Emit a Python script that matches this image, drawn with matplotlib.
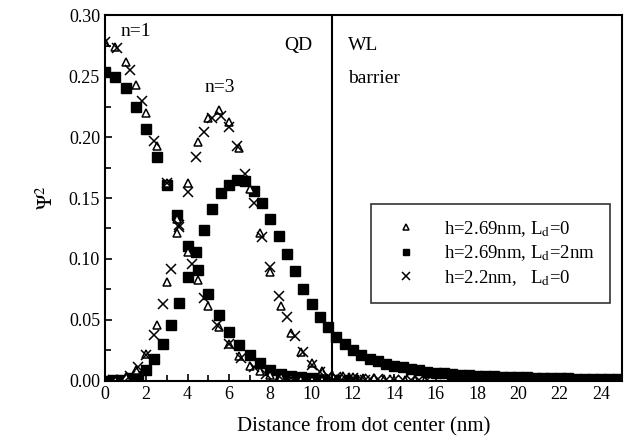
import matplotlib
matplotlib.use('Agg')
import matplotlib.pyplot as plt
from matplotlib.ticker import MultipleLocator

plt.rcParams['font.family'] = ['Liberation Serif', 'DejaVu Serif']
plt.rcParams['mathtext.fontset'] = 'stix'

# n=1 ground state, h=2.69nm, Ld=0 (open triangles)
x_tri_1 = [0.0, 0.5, 1.0, 1.5, 2.0, 2.5, 3.0, 3.5, 4.0, 4.5, 5.0, 5.5, 6.0, 6.5, 7.0, 7.5,
           8.0, 8.5, 9.0, 9.5, 10.0, 10.5, 11.0, 11.5, 12.0, 12.5, 13.0]
y_tri_1 = [0.278, 0.274, 0.262, 0.243, 0.220, 0.193, 0.162, 0.133, 0.106, 0.083, 0.061, 0.044,
           0.030, 0.020, 0.012, 0.008, 0.005, 0.003, 0.002, 0.0015, 0.001, 0.001, 0.0008,
           0.0006, 0.0005, 0.0004, 0.0003]
# n=3, h=2.69nm, Ld=0
x_tri_3 = [0.0, 0.5, 1.0, 1.5, 2.0, 2.5, 3.0, 3.5, 4.0, 4.5, 5.0, 5.5, 6.0, 6.5, 7.0, 7.5,
           8.0, 8.5, 9.0, 9.5, 10.0, 10.5, 11.0, 11.5, 12.0, 12.5, 13.0, 13.5, 14.0, 14.5,
           15.0, 15.5]
y_tri_3 = [0.0, 0.001, 0.003, 0.009, 0.022, 0.046, 0.081, 0.121, 0.162, 0.196, 0.216, 0.222,
           0.212, 0.191, 0.157, 0.121, 0.089, 0.061, 0.039, 0.024, 0.015, 0.008, 0.005, 0.004,
           0.003, 0.0025, 0.002, 0.0015, 0.001, 0.001, 0.0008, 0.0006]

# n=1, h=2.69nm, Ld=2nm (filled squares)
x_sq_1 = [0.0, 0.5, 1.0, 1.5, 2.0, 2.5, 3.0, 3.5, 4.0, 4.5, 5.0, 5.5, 6.0, 6.5, 7.0, 7.5,
          8.0, 8.5, 9.0, 9.5, 10.0, 10.5, 11.0, 11.5, 12.0]
y_sq_1 = [0.253, 0.249, 0.240, 0.225, 0.207, 0.184, 0.161, 0.136, 0.111, 0.091, 0.071, 0.054,
          0.040, 0.029, 0.021, 0.015, 0.009, 0.006, 0.004, 0.003, 0.002, 0.0015, 0.001,
          0.001, 0.0008]
# n=3, h=2.69nm, Ld=2nm
x_sq_3 = [0.0, 0.4, 0.8, 1.2, 1.6, 2.0, 2.4, 2.8, 3.2, 3.6, 4.0, 4.4, 4.8, 5.2, 5.6, 6.0,
          6.4, 6.8, 7.2, 7.6, 8.0, 8.4, 8.8, 9.2, 9.6, 10.0, 10.4, 10.8, 11.2, 11.6, 12.0,
          12.4, 12.8, 13.2, 13.6, 14.0, 14.4, 14.8, 15.2, 15.6, 16.0, 16.4, 16.8, 17.2, 17.6,
          18.0, 18.4, 18.8, 19.2, 19.6, 20.0, 20.4, 20.8, 21.2, 21.6, 22.0, 22.4, 22.8, 23.2,
          23.6, 24.0, 24.4, 24.8]
y_sq_3 = [0.0, 0.0005, 0.001, 0.002, 0.004, 0.009, 0.018, 0.030, 0.046, 0.064, 0.085, 0.106,
          0.124, 0.141, 0.154, 0.161, 0.165, 0.164, 0.156, 0.146, 0.133, 0.119, 0.104, 0.090,
          0.075, 0.063, 0.052, 0.044, 0.036, 0.030, 0.025, 0.021, 0.018, 0.016, 0.014, 0.012,
          0.011, 0.0095, 0.0085, 0.0075, 0.0068, 0.0062, 0.0056, 0.0051, 0.0047, 0.0043,
          0.0040, 0.0037, 0.0034, 0.0032, 0.0030, 0.0028, 0.0026, 0.0024, 0.0022, 0.0021,
          0.0020, 0.0019, 0.0018, 0.0017, 0.0016, 0.0015, 0.0014]

# n=1, h=2.2nm, Ld=0 (crosses)
x_x_1 = [0.0, 0.6, 1.2, 1.8, 2.4, 3.0, 3.6, 4.2, 4.8, 5.4, 6.0, 6.6, 7.2, 7.8, 8.4, 9.0,
         9.6, 10.2, 10.8, 11.4, 12.0, 12.6]
y_x_1 = [0.278, 0.273, 0.255, 0.230, 0.197, 0.162, 0.126, 0.096, 0.068, 0.046, 0.030, 0.019,
         0.011, 0.006, 0.004, 0.002, 0.0015, 0.001, 0.0008, 0.0006, 0.0005, 0.0004]
# n=3, h=2.2nm, Ld=0
x_x_3 = [0.0, 0.4, 0.8, 1.2, 1.6, 2.0, 2.4, 2.8, 3.2, 3.6, 4.0, 4.4, 4.8, 5.2, 5.6, 6.0,
         6.4, 6.8, 7.2, 7.6, 8.0, 8.4, 8.8, 9.2, 9.6, 10.0, 10.4, 10.8, 11.2, 11.6, 12.0,
         12.4, 12.8, 13.2, 13.6, 14.0, 14.4, 14.8, 15.2, 15.6]
y_x_3 = [0.0, 0.0005, 0.001, 0.004, 0.011, 0.021, 0.038, 0.063, 0.092, 0.128, 0.155, 0.184,
         0.204, 0.216, 0.217, 0.208, 0.193, 0.170, 0.146, 0.118, 0.093, 0.070, 0.052, 0.037,
         0.024, 0.013, 0.007, 0.004, 0.003, 0.0025, 0.002, 0.0018, 0.0015, 0.0012, 0.001,
         0.001, 0.0008, 0.0007, 0.0006, 0.0005]

labels = [r'h=2.69nm, L$_\mathrm{d}$=0', r'h=2.69nm, L$_\mathrm{d}$=2nm', r'h=2.2nm,   L$_\mathrm{d}$=0']

fig = plt.figure(figsize=(6.28, 4.47), dpi=100)
ax = fig.add_axes([0.167, 0.148, 0.823, 0.818])

tri_kw = dict(linestyle='none', marker='^', markersize=6, markerfacecolor='white',
              markeredgecolor='black', markeredgewidth=1.1)
sq_kw = dict(linestyle='none', marker='s', markersize=6.5, color='black')
x_kw = dict(linestyle='none', marker='x', markersize=7, color='black', markeredgewidth=1.1)

ax.plot(x_sq_1, y_sq_1, **sq_kw)
ax.plot(x_sq_3, y_sq_3, **sq_kw)
ax.plot(x_tri_1, y_tri_1, **tri_kw)
ax.plot(x_tri_3, y_tri_3, **tri_kw)
ax.plot(x_x_1, y_x_1, **x_kw)
ax.plot(x_x_3, y_x_3, **x_kw)

# legend handles (smaller markers like the original)
h_tri, = ax.plot([], [], linestyle='none', marker='^', markersize=5, markerfacecolor='white',
                 markeredgecolor='black', markeredgewidth=1.1)
h_sq, = ax.plot([], [], linestyle='none', marker='s', markersize=5, color='black')
h_x, = ax.plot([], [], linestyle='none', marker='x', markersize=5.5, color='black',
               markeredgewidth=1.1)

# dot / wetting layer boundary
ax.axvline(11.0, color='black', linewidth=1.5)

ax.set_xlim(0, 25)
ax.set_ylim(0, 0.30)
ax.xaxis.set_major_locator(MultipleLocator(2))
ax.xaxis.set_minor_locator(MultipleLocator(1))
ax.yaxis.set_major_locator(MultipleLocator(0.05))
ax.yaxis.set_minor_locator(MultipleLocator(0.025))
ax.yaxis.set_major_formatter(matplotlib.ticker.FormatStrFormatter('%.2f'))
ax.tick_params(which='both', direction='in', width=1.2, labelsize=13)
ax.tick_params(which='major', length=5)
ax.tick_params(which='minor', length=4)
for s in ax.spines.values():
    s.set_linewidth(1.5)

ax.set_xlabel('Distance from dot center (nm)', fontsize=15, labelpad=10)
ax.set_ylabel(r'$\Psi^2$', fontsize=15, labelpad=8)

ax.text(0.75, 0.287, 'n=1', fontsize=14, va='center')
ax.text(4.8, 0.241, 'n=3', fontsize=14, va='center')
ax.text(8.7, 0.275, 'QD', fontsize=14, va='center')
ax.text(11.75, 0.275, 'WL', fontsize=14, va='center')
ax.text(11.75, 0.248, 'barrier', fontsize=14, va='center')

leg = ax.legend([h_tri, h_sq, h_x], labels, loc='upper left', bbox_to_anchor=(0.514, 0.484),
                fontsize=13.5, frameon=True, fancybox=False, edgecolor='black',
                handlelength=2.2, handletextpad=0.9, borderpad=0.8, labelspacing=0.25,
                borderaxespad=0)
leg.get_frame().set_linewidth(1.2)

fig.savefig('out.png', dpi=100)
